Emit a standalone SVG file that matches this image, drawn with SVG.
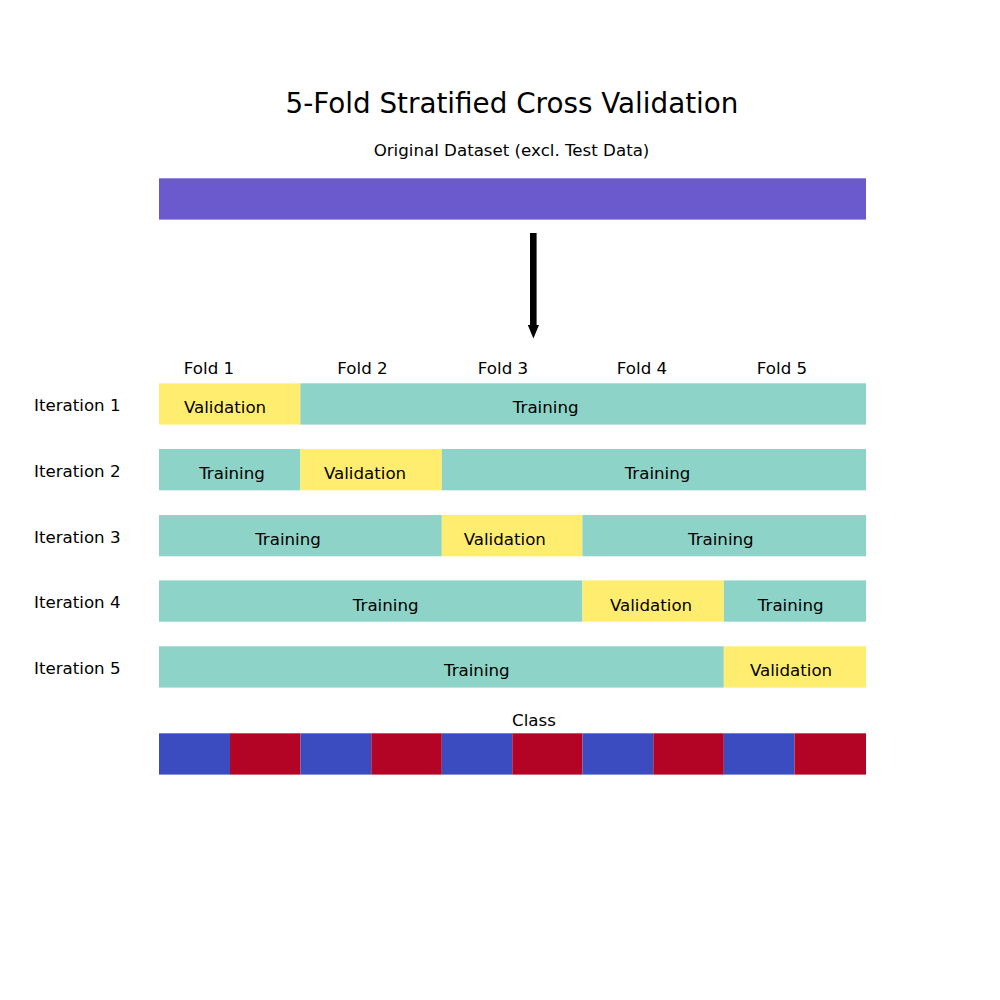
<svg xmlns="http://www.w3.org/2000/svg" width="1000" height="1000" viewBox="0 0 1000 1000">
<style>
text{font-family:"DejaVu Sans","Liberation Sans",sans-serif;fill:#000}
.t{font-size:27.8px;text-anchor:middle}
.l{font-size:16.67px}
.m{text-anchor:middle}
.tr{fill:#8dd3c7}
.va{fill:#ffed6f}
.bl{fill:#3b4cc0}
.rd{fill:#b40426}
</style>
<rect width="1000" height="1000" fill="#fff"/>
<text class="t" x="512" y="113">5-Fold Stratified Cross Validation</text>
<g id="original">
<text class="l m" x="511.5" y="156">Original Dataset (excl. Test Data)</text>
<rect x="159" y="178.3" width="707" height="41.3" fill="#6a5acd"/>
</g>
<g id="connectors">
<rect x="530" y="233" width="6.6" height="93" fill="#000"/>
<polygon points="527.8,325 539.0,325 533.4,338.5" fill="#000"/>
</g>
<g id="folds" class="l">
<text class="l m" x="209" y="374">Fold 1</text>
<text class="l m" x="362.5" y="374">Fold 2</text>
<text class="l m" x="503" y="374">Fold 3</text>
<text class="l m" x="642" y="374">Fold 4</text>
<text class="l m" x="782" y="374">Fold 5</text>
</g>
<g id="iteration1">
<text class="l" x="34" y="411">Iteration 1</text>
<rect class="va" x="159" y="383.3" width="141.4" height="41.3"/>
<rect class="tr" x="300.4" y="383.3" width="565.6" height="41.3"/>
<text class="l m" x="225" y="413.3">Validation</text>
<text class="l m" x="545.7" y="413.3">Training</text>
</g>
<g id="iteration2">
<text class="l" x="34" y="476.8">Iteration 2</text>
<rect class="tr" x="159" y="449" width="141.4" height="41.3"/>
<rect class="va" x="300.4" y="449" width="141.4" height="41.3"/>
<rect class="tr" x="441.8" y="449" width="424.2" height="41.3"/>
<text class="l m" x="232" y="479.1">Training</text>
<text class="l m" x="365" y="479.1">Validation</text>
<text class="l m" x="657.5" y="479.1">Training</text>
</g>
<g id="iteration3">
<text class="l" x="34" y="542.6">Iteration 3</text>
<rect class="tr" x="159" y="515" width="282.8" height="41.3"/>
<rect class="va" x="441.8" y="515" width="140.6" height="41.3"/>
<rect class="tr" x="582.4" y="515" width="283.6" height="41.3"/>
<text class="l m" x="288" y="544.9">Training</text>
<text class="l m" x="504.8" y="544.9">Validation</text>
<text class="l m" x="720.8" y="544.9">Training</text>
</g>
<g id="iteration4">
<text class="l" x="34" y="608.3">Iteration 4</text>
<rect class="tr" x="159" y="580.4" width="423.4" height="41.3"/>
<rect class="va" x="582.4" y="580.4" width="141.4" height="41.3"/>
<rect class="tr" x="723.8" y="580.4" width="142.2" height="41.3"/>
<text class="l m" x="385.7" y="610.6">Training</text>
<text class="l m" x="651" y="610.6">Validation</text>
<text class="l m" x="790.7" y="610.6">Training</text>
</g>
<g id="iteration5">
<text class="l" x="34" y="674.1">Iteration 5</text>
<rect class="tr" x="159" y="646.3" width="564.8" height="41.3"/>
<rect class="va" x="723.8" y="646.3" width="142.2" height="41.3"/>
<text class="l m" x="476.8" y="676.4">Training</text>
<text class="l m" x="791" y="676.4">Validation</text>
</g>
<g id="class">
<text class="l m" x="534" y="725.7">Class</text>
<rect class="bl" x="159" y="733.3" width="71" height="41.3"/>
<rect class="rd" x="230" y="733.3" width="70.5" height="41.3"/>
<rect class="bl" x="300.5" y="733.3" width="70.8" height="41.3"/>
<rect class="rd" x="371.3" y="733.3" width="70.5" height="41.3"/>
<rect class="bl" x="441.8" y="733.3" width="70.5" height="41.3"/>
<rect class="rd" x="512.3" y="733.3" width="70.2" height="41.3"/>
<rect class="bl" x="582.5" y="733.3" width="70.8" height="41.3"/>
<rect class="rd" x="653.3" y="733.3" width="70.5" height="41.3"/>
<rect class="bl" x="723.8" y="733.3" width="70.7" height="41.3"/>
<rect class="rd" x="794.5" y="733.3" width="71.5" height="41.3"/>
</g>
</svg>
